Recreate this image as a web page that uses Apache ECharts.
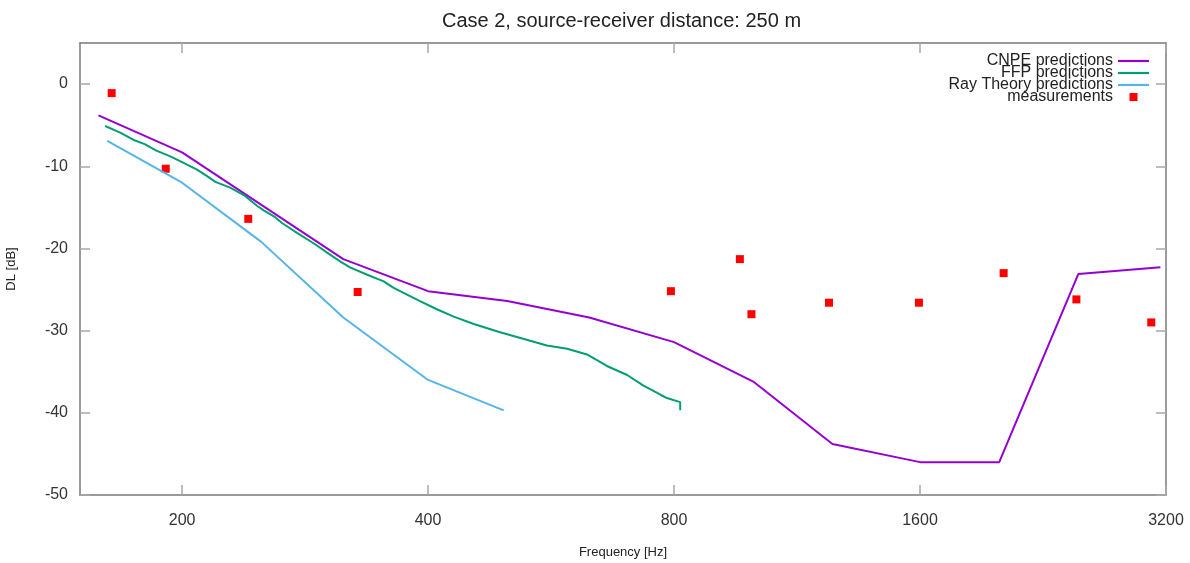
<!DOCTYPE html>
<html>
<head>
<meta charset="utf-8">
<title>Case 2, source-receiver distance: 250 m</title>
<script src="https://cdn.jsdelivr.net/npm/echarts@6/dist/echarts.min.js"></script>
<style>
  html, body { margin: 0; padding: 0; background: #ffffff; }
  #chart { width: 1190px; height: 563px; }
</style>
</head>
<body>
<div id="chart"></div>
<script>
// Frequency axis ticks (Hz) and level axis ticks (dB)
const freqTicks = [200, 400, 800, 1600, 3200];
const dlTicks = [-50, -40, -30, -20, -10, 0];

// CNPE predictions
const cnpeFreq = [158, 200, 315, 400, 500, 630, 800, 1000, 1250, 1600, 2000, 2500, 3150];
const cnpeDL = [-3.8, -8.3, -21.3, -25.2, -26.4, -28.4, -31.4, -36.2, -43.8, -46.0, -46.0, -23.1, -22.3];

// FFP predictions
const ffpFreq = [161, 168, 174.5, 180, 186, 193.5, 200, 208.6, 214.6, 219.7, 229, 238, 247, 252,
  260, 265, 276.5, 290, 301, 312.5, 321, 337, 353, 363, 391, 410, 430, 455, 490, 519, 559,
  592, 626, 662, 701, 734, 770, 784, 814, 814];
const ffpDL = [-5.1, -5.9, -6.8, -7.3, -8.1, -8.8, -9.5, -10.4, -11.2, -11.9, -12.6, -13.5, -14.8, -15.4,
  -16.2, -16.9, -18.1, -19.4, -20.5, -21.6, -22.3, -23.2, -24.0, -24.8, -26.4, -27.4, -28.3, -29.2, -30.2, -30.9, -31.8,
  -32.2, -32.9, -34.3, -35.4, -36.7, -37.8, -38.2, -38.7, -39.7];

// Ray Theory predictions
const rayFreq = [162, 200, 250, 315, 400, 495];
const rayDL = [-6.9, -12.0, -19.2, -28.4, -36.0, -39.7];

// Measurements
const measFreq = [164, 191, 241, 328, 793, 963, 995, 1238, 1595, 2025, 2486, 3070];
const measDL = [-1.1, -10.3, -16.4, -25.3, -25.2, -21.3, -28.0, -26.6, -26.6, -23.0, -26.2, -29.0];

// The frequency axis is logarithmic (base 2): positions are log2(f)
const toXY = (fs, vs) => fs.map((f, i) => [Math.log2(f), vs[i]]);
const fMin = 150, fMax = 3200;

const FONT = '"Liberation Sans", Arial, sans-serif';
const axisLineStyle = { color: '#7a7a7a', width: 1.5 };
const tickStyle = { color: '#a8a8a8', width: 1.5 };
const lineIcon = 'path://M0,0H31V2.2H0Z';

const xBase = {
  type: 'value',
  min: Math.log2(fMin),
  max: Math.log2(fMax),
  splitLine: { show: false },
  axisLine: { show: true, onZero: false, lineStyle: axisLineStyle },
  axisTick: { show: true, inside: true, length: 10, lineStyle: tickStyle, customValues: freqTicks.map(Math.log2) }
};
const yBase = {
  type: 'value',
  min: -50,
  max: 5,
  splitLine: { show: false },
  axisLine: { show: true, onZero: false, lineStyle: axisLineStyle },
  axisTick: { show: true, inside: true, length: 10, lineStyle: tickStyle, customValues: dlTicks }
};

const chart = echarts.init(document.getElementById('chart'), null, { renderer: 'canvas' });

chart.setOption({
  animation: false,
  backgroundColor: '#ffffff',
  title: {
    text: 'Case 2, source-receiver distance: 250 m',
    left: 437,
    top: 6,
    textStyle: { fontFamily: FONT, fontSize: 20, fontWeight: 'normal', color: '#222222' }
  },
  grid: { left: 80, right: 24, top: 43, bottom: 68, outerBoundsMode: 'none' },
  legend: {
    orient: 'vertical',
    right: 36,
    top: 48,
    align: 'right',
    itemWidth: 31,
    itemHeight: 8,
    itemGap: -4,
    textStyle: { fontFamily: FONT, fontSize: 16, color: '#222222' },
    data: [
      { name: 'CNPE predictions', icon: lineIcon },
      { name: 'FFP predictions', icon: lineIcon },
      { name: 'Ray Theory predictions', icon: lineIcon },
      { name: 'measurements', icon: 'path://M0,0h1v1h-1z' }
    ]
  },
  xAxis: [
    Object.assign({}, xBase, {
      position: 'bottom',
      name: 'Frequency [Hz]',
      nameLocation: 'middle',
      nameGap: 51,
      nameTextStyle: { fontFamily: FONT, fontSize: 13, color: '#222222' },
      axisLabel: {
        show: true,
        margin: 18,
        fontFamily: FONT,
        fontSize: 16,
        color: '#333333',
        customValues: freqTicks.map(Math.log2),
        formatter: v => String(Math.round(Math.pow(2, v)))
      }
    }),
    Object.assign({}, xBase, { position: 'top', axisLabel: { show: false } })
  ],
  yAxis: [
    Object.assign({}, yBase, {
      position: 'left',
      name: 'DL [dB]',
      nameLocation: 'middle',
      nameGap: 62,
      nameTextStyle: { fontFamily: FONT, fontSize: 13, color: '#222222' },
      axisLabel: {
        show: true,
        margin: 12,
        fontFamily: FONT,
        fontSize: 16,
        color: '#333333',
        customValues: dlTicks
      }
    }),
    Object.assign({}, yBase, { position: 'right', axisLabel: { show: false } })
  ],
  series: [
    {
      name: 'CNPE predictions',
      type: 'line',
      symbol: 'none',
      color: '#9400D3',
      lineStyle: { color: '#9400D3', width: 2 },
      data: toXY(cnpeFreq, cnpeDL)
    },
    {
      name: 'FFP predictions',
      type: 'line',
      symbol: 'none',
      color: '#009E73',
      lineStyle: { color: '#009E73', width: 2 },
      data: toXY(ffpFreq, ffpDL)
    },
    {
      name: 'Ray Theory predictions',
      type: 'line',
      symbol: 'none',
      color: '#56B4E9',
      lineStyle: { color: '#56B4E9', width: 2 },
      data: toXY(rayFreq, rayDL)
    },
    {
      name: 'measurements',
      type: 'scatter',
      symbol: 'rect',
      symbolSize: 8,
      color: '#FF0000',
      itemStyle: { color: '#FF0000', opacity: 1 },
      data: toXY(measFreq, measDL)
    }
  ]
});
</script>
</body>
</html>
